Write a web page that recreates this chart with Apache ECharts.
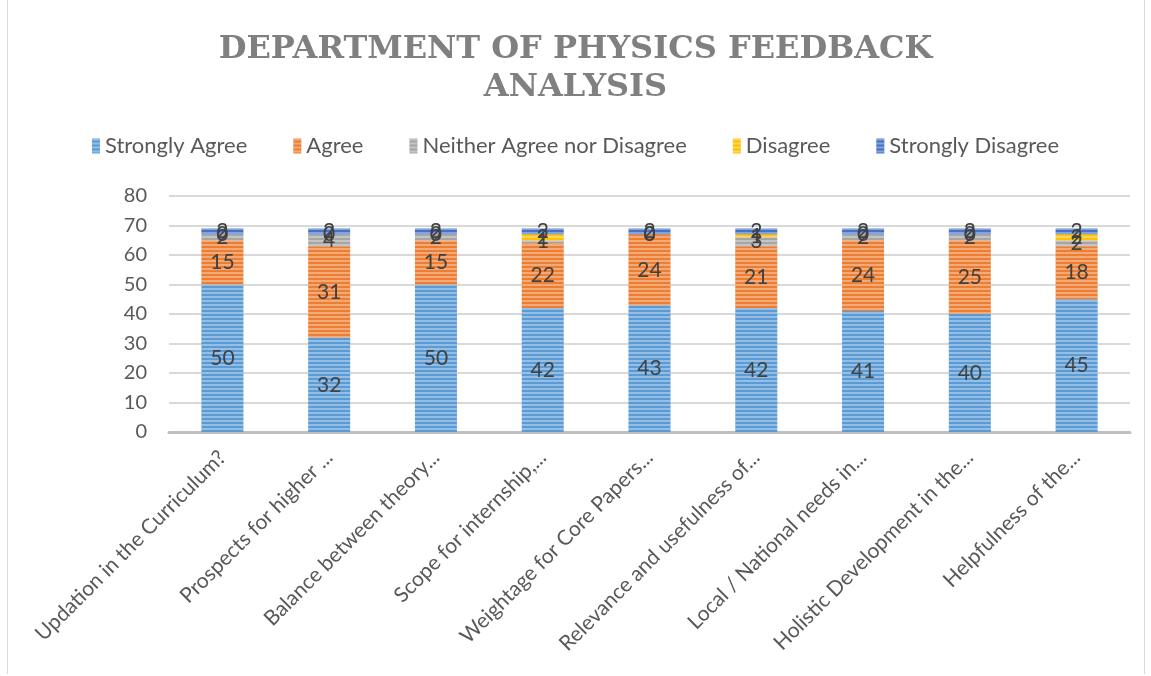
<!DOCTYPE html>
<html>
<head>
<meta charset="utf-8">
<script src="https://cdn.jsdelivr.net/npm/echarts@6/dist/echarts.min.js"></script>
<style>
  html, body { margin: 0; padding: 0; background: #fff; }
  #main { width: 1151px; height: 676px; }
  #frame { position: absolute; left: 7px; top: -2px; width: 1136px; height: 676px; border-left: 1px solid #d9d9d9; border-right: 1px solid #d9d9d9; pointer-events: none; }
</style>
</head>
<body>
<div id="main"></div>
<div id="frame"></div>
<script>
  // 问卷题目（横轴）
  var questions = [
    'Updation in the Curriculum?',
    'Prospects for higher ...',
    'Balance between theory...',
    'Scope for internship,...',
    'Weightage for Core Papers...',
    'Relevance and usefulness of...',
    'Local / National needs in...',
    'Holistic Development in the...',
    'Helpfulness of the...'
  ];
  var levels = ['Strongly Agree', 'Agree', 'Neither Agree nor Disagree', 'Disagree', 'Strongly Disagree'];
  var colors = ['#5B9BD5', '#ED7D31', '#A5A5A5', '#FFC000', '#4472C4'];

  var stronglyAgree = [50, 32, 50, 42, 43, 42, 41, 40, 45];
  var agree = [15, 31, 15, 22, 24, 21, 24, 25, 18];
  var neither = [2, 4, 2, 1, 0, 3, 2, 2, 2];
  var disagree = [0, 0, 0, 2, 0, 1, 0, 0, 2];
  var stronglyDisagree = [2, 2, 2, 2, 2, 2, 2, 2, 2];

  var yTicks = [0, 10, 20, 30, 40, 50, 60, 70, 80];

  var seriesData = [stronglyAgree, agree, neither, disagree, stronglyDisagree];

  var myChart = echarts.init(document.getElementById('main'));

  var series = [];
  for (let i = 0; i < levels.length; i++) {
    series.push({
      name: levels[i],
      type: 'bar',
      stack: 'total',
      barWidth: 42,
      data: seriesData[i],
      itemStyle: {
        color: colors[i],
        decal: {
          symbol: 'rect',
          color: 'rgba(255,255,255,0.35)',
          dashArrayX: [1, 0],
          dashArrayY: [2, 2],
          symbolSize: 1,
          rotation: 0
        }
      },
      label: {
        show: true,
        position: 'inside',
        color: '#404040',
        fontSize: 21,
        fontFamily: 'Lato'
      }
    });
  }

  myChart.setOption({
    animation: false,
    aria: {enabled: true, decal: {show: true}},
    title: {
      text: 'DEPARTMENT OF PHYSICS FEEDBACK\nANALYSIS',
      left: 'center',
      top: 26,
      textStyle: {
        fontFamily: 'DejaVu Serif',
        fontWeight: 'bold',
        fontSize: 32,
        lineHeight: 38,
        color: '#808080'
      }
    },
    legend: {
      top: 130,
      left: 'center',
      itemWidth: 8,
      itemHeight: 15,
      itemGap: 46,
      icon: 'rect',
      data: levels,
      textStyle: {color: '#595959', fontSize: 22, fontFamily: 'Lato'}
    },
    grid: {left: 169, right: 21, top: 196, bottom: 244},
    xAxis: {
      type: 'category',
      data: questions,
      axisTick: {show: false},
      axisLine: {lineStyle: {color: '#bfbfbf', width: 3}},
      axisLabel: {
        rotate: 45,
        interval: 0,
        margin: 22,
        color: '#595959',
        fontSize: 21,
        fontFamily: 'Lato'
      }
    },
    yAxis: {
      type: 'value',
      min: yTicks[0],
      max: yTicks[yTicks.length - 1],
      interval: 10,
      axisLine: {show: false},
      axisTick: {show: false},
      splitLine: {lineStyle: {color: '#d9d9d9', width: 2}},
      axisLabel: {color: '#595959', fontSize: 20, fontFamily: 'Lato', margin: 22}
    },
    series: series
  });
</script>
</body>
</html>
